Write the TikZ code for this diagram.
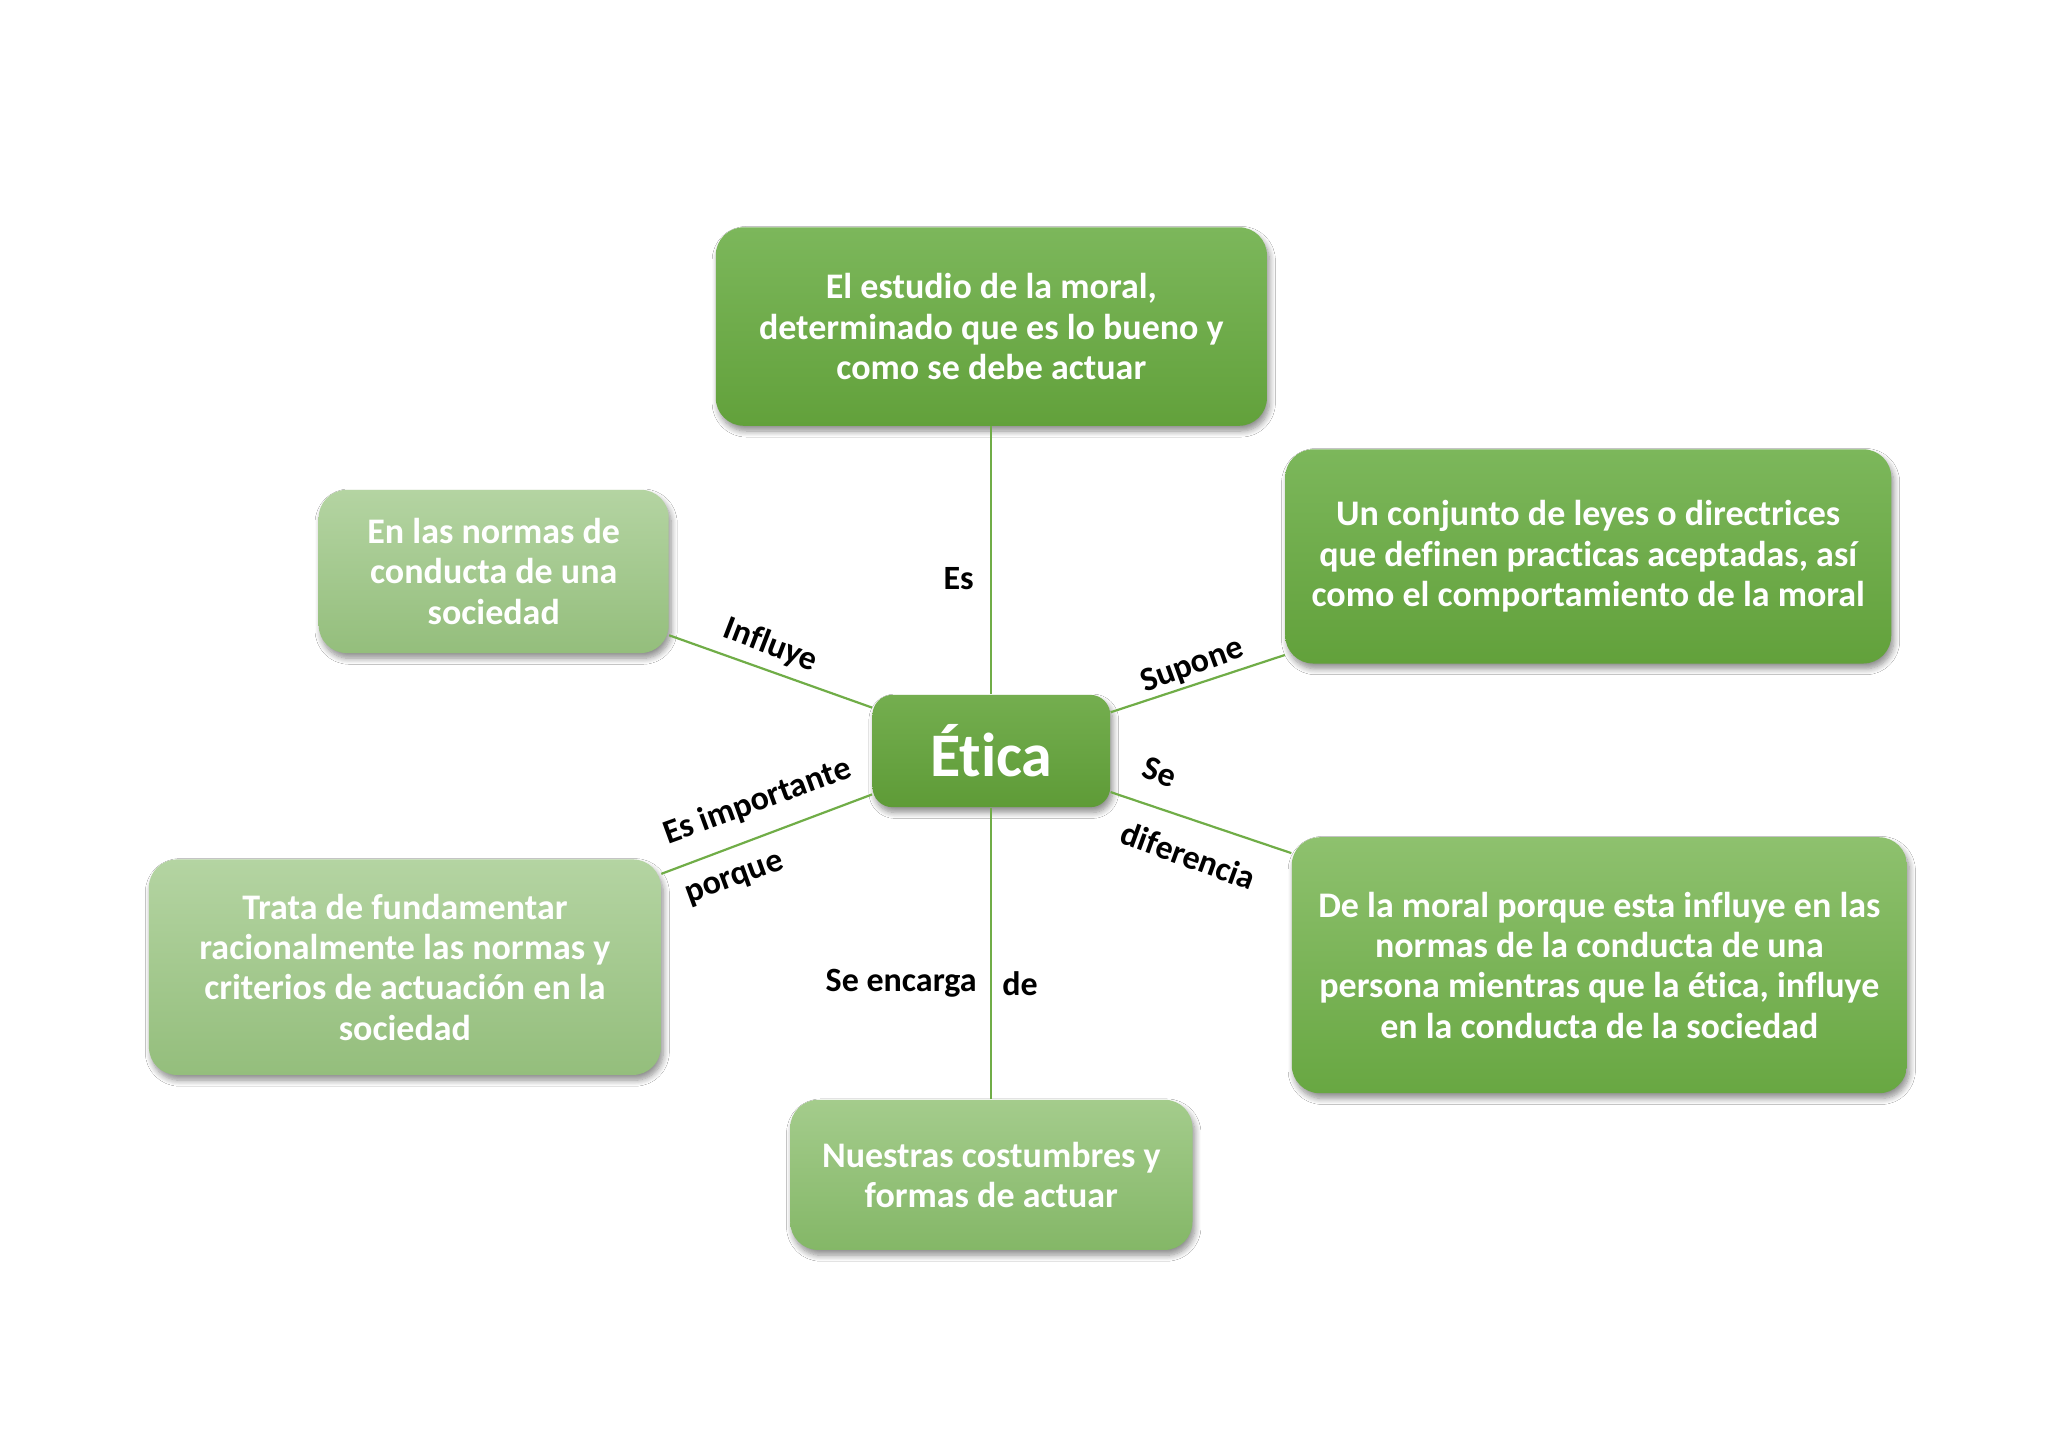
\documentclass[tikz,border=0pt]{standalone}
\usepackage{fontspec}
\setmainfont{Carlito}[Ligatures={NoCommon}]
\usetikzlibrary{shadows.blur}
\definecolor{linegreen}{HTML}{70AD47}
\definecolor{midtop}{HTML}{7CB75B}
\definecolor{midbot}{HTML}{62A13B}
\definecolor{etop}{HTML}{74AE4F}
\definecolor{ebot}{HTML}{5E9B37}
\definecolor{rltop}{HTML}{8EC16E}
\definecolor{rlbot}{HTML}{68A742}
\definecolor{lighttop}{HTML}{B4D4A2}
\definecolor{lightbot}{HTML}{94BE7C}
\definecolor{bottop}{HTML}{A4CC8C}
\definecolor{botbot}{HTML}{84B767}
\tikzset{
  box/.style={rectangle, rounded corners=14pt, inner sep=0pt, align=center,
    text=white, font=\fontsize{18}{20.2}\selectfont\bfseries,
    blur shadow={shadow xshift=1.2pt, shadow yshift=-2.6pt, shadow blur steps=8, shadow blur radius=3pt, shadow opacity=45}},
  midbox/.style={box, top color=midtop, bottom color=midbot},
  lightbox/.style={box, top color=lighttop, bottom color=lightbot},
  conn/.style={draw=linegreen, line width=1.1pt},
  lbl/.style={inner sep=0pt, text=black, font=\fontsize{17}{19}\selectfont\bfseries}
}
\begin{document}
\begin{tikzpicture}[x=0.653pt, y=-0.653pt]
\useasboundingbox[fill=white] (0,0) rectangle (1568,1108);

\node[midbox, minimum width=422*0.653pt, minimum height=152*0.653pt] (top) at (759,250)
  {El estudio de la moral,\\determinado que es lo bueno y\\como se debe actuar};
\node[lightbox, minimum width=268*0.653pt, minimum height=125*0.653pt] (lu) at (378,437.5)
  {En las normas de\\conducta de una\\sociedad};
\node[midbox, minimum width=464*0.653pt, minimum height=164*0.653pt] (ru) at (1216,426)
  {Un conjunto de leyes o directrices\\que definen practicas aceptadas, así\\como el comportamiento de la moral};
\node[box, top color=etop, bottom color=ebot, rounded corners=10pt, minimum width=182*0.653pt, minimum height=86*0.653pt,
  font=\fontsize{31}{34}\selectfont\bfseries] (etica) at (759,575) {Ética};
\node[lightbox, minimum width=392*0.653pt, minimum height=165*0.653pt] (ll) at (310,740.5)
  {Trata de fundamentar\\racionalmente las normas y\\criterios de actuación en la\\sociedad};
\node[box, top color=rltop, bottom color=rlbot, minimum width=471*0.653pt, minimum height=196*0.653pt] (rl) at (1224.5,739)
  {De la moral porque esta influye en las\\normas de la conducta de una\\persona mientras que la ética, influye\\en la conducta de la sociedad};
\node[box, top color=bottop, bottom color=botbot, minimum width=308*0.653pt, minimum height=115*0.653pt] (bot) at (759,899.5)
  {Nuestras costumbres y\\formas de actuar};

\draw[conn] (top.south) -- (etica.north);
\draw[conn] (etica.160) -- (lu.340);
\draw[conn] (etica.18) -- (ru.198);
\draw[conn] (etica.341) -- (rl.160);
\draw[conn] (etica.200) -- (ll.20);
\draw[conn] (etica.south) -- (bot.north);

\node[lbl] (l1) at (734,443) {Es};
\node[lbl, rotate=-21] (l2) at (590,494) {Influye};
\node[lbl, rotate=20] (l3) at (913,510) {Supone};
\node[lbl, rotate=-20] (l4) at (888,591) {Se};
\node[lbl, rotate=-20] (l5) at (910,655) {diferencia};
\node[lbl, rotate=20] (l6) at (580,614) {Es importante};
\node[lbl, rotate=20] (l7) at (563,674) {porque};
\node[lbl] (l8) at (690,753) {Se encarga};
\node[lbl] (l9) at (781,753) {de};
\end{tikzpicture}
\end{document}
